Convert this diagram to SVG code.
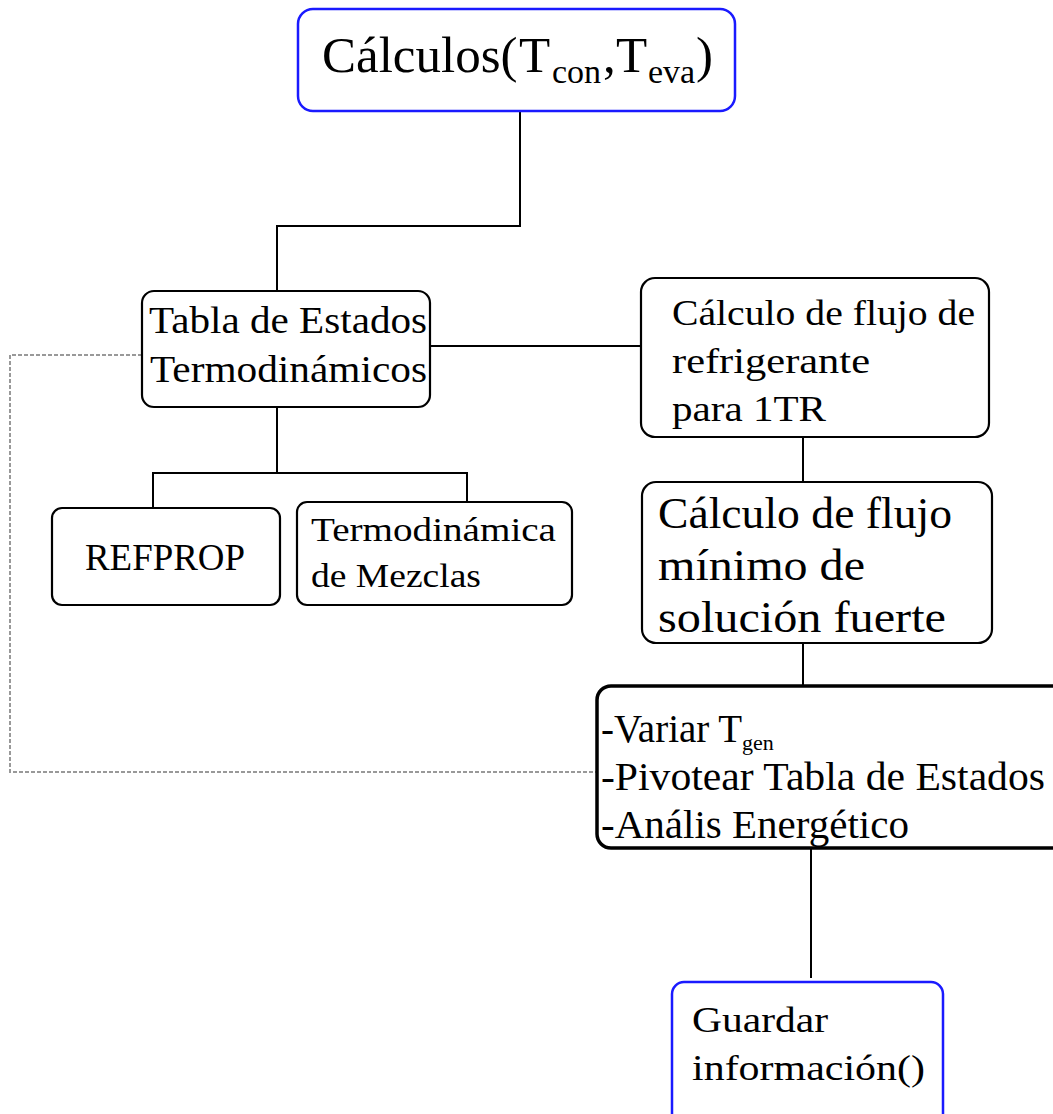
<svg xmlns="http://www.w3.org/2000/svg" width="1053" height="1114" viewBox="0 0 1053 1114">
<style>
.box{fill:#fff;stroke:#000;stroke-width:2.2}
.blue{fill:#fff;stroke:#1a1aff;stroke-width:2.5}
.thick{fill:#fff;stroke:#000;stroke-width:3.5}
.t{font-family:"Liberation Serif","DejaVu Serif",serif;fill:#000}
.c{fill:none;stroke:#000;stroke-width:2}
.d{fill:none;stroke:#999;stroke-width:2;stroke-dasharray:4 2}
</style>
<rect width="1053" height="1114" fill="#fff"/>
<g id="connectors">
<polyline class="c" points="520,111 520,226 277,226 277,291"/>
<line class="c" x1="430" y1="346" x2="641" y2="346"/>
<polyline class="c" points="277,407 277,473 153,473 153,508"/>
<polyline class="c" points="277,473 467,473 467,502"/>
<line class="c" x1="803" y1="437" x2="803" y2="482"/>
<line class="c" x1="803" y1="643" x2="803" y2="686"/>
<line class="c" x1="811" y1="848" x2="811" y2="978"/>
<polyline class="d" points="142,355 10,355 10,772 597,772"/>
</g>
<g id="calculos">
<rect class="blue" x="298" y="9" width="437" height="102" rx="15"/>
<text class="t" font-size="51" y="72"><tspan x="322">Cálculos(</tspan><tspan x="519">T</tspan><tspan x="552" y="83" font-size="34">con</tspan><tspan x="603" y="72">,</tspan><tspan x="616">T</tspan><tspan x="648" y="83" font-size="34">eva</tspan><tspan x="696" y="72">)</tspan></text>
</g>
<g id="tabla">
<rect class="box" x="142" y="291" width="288" height="116" rx="12"/>
<text class="t" x="149" y="333" font-size="37" textLength="278" lengthAdjust="spacingAndGlyphs">Tabla de Estados</text>
<text class="t" x="150" y="382" font-size="37" textLength="277" lengthAdjust="spacingAndGlyphs">Termodinámicos</text>
</g>
<g id="refprop">
<rect class="box" x="52" y="508" width="228" height="97" rx="10"/>
<text class="t" x="85" y="570" font-size="38" textLength="160" lengthAdjust="spacingAndGlyphs">REFPROP</text>
</g>
<g id="mezclas">
<rect class="box" x="297" y="502" width="275" height="103" rx="10"/>
<text class="t" x="311" y="541" font-size="34" textLength="245" lengthAdjust="spacingAndGlyphs">Termodinámica</text>
<text class="t" x="311" y="587" font-size="34" textLength="170" lengthAdjust="spacingAndGlyphs">de Mezclas</text>
</g>
<g id="flujo-refrigerante">
<rect class="box" x="641" y="278" width="348" height="159" rx="14"/>
<text class="t" x="672" y="325" font-size="36" textLength="303" lengthAdjust="spacingAndGlyphs">Cálculo de flujo de</text>
<text class="t" x="672" y="373" font-size="36" textLength="198" lengthAdjust="spacingAndGlyphs">refrigerante</text>
<text class="t" x="672" y="421" font-size="36" textLength="154" lengthAdjust="spacingAndGlyphs">para 1TR</text>
</g>
<g id="flujo-solucion">
<rect class="box" x="642" y="482" width="350" height="161" rx="14"/>
<text class="t" x="658" y="528" font-size="45" textLength="294" lengthAdjust="spacingAndGlyphs">Cálculo de flujo</text>
<text class="t" x="658" y="580" font-size="45" textLength="207" lengthAdjust="spacingAndGlyphs">mínimo de</text>
<text class="t" x="658" y="632" font-size="45" textLength="288" lengthAdjust="spacingAndGlyphs">solución fuerte</text>
</g>
<g id="variar">
<rect class="thick" x="597" y="686" width="470" height="162" rx="14"/>
<text class="t" y="742" font-size="39"><tspan x="601">-Variar T</tspan><tspan x="742" y="750" font-size="22">gen</tspan></text>
<text class="t" x="601" y="790" font-size="40" textLength="444" lengthAdjust="spacingAndGlyphs">-Pivotear Tabla de Estados</text>
<text class="t" x="601" y="838" font-size="40" textLength="308" lengthAdjust="spacingAndGlyphs">-Anális Energético</text>
</g>
<g id="guardar">
<rect class="blue" x="672" y="982" width="271" height="150" rx="12"/>
<text class="t" x="692" y="1032" font-size="36" textLength="136" lengthAdjust="spacingAndGlyphs">Guardar</text>
<text class="t" x="692" y="1080" font-size="36" textLength="233" lengthAdjust="spacingAndGlyphs">información()</text>
</g>
</svg>
